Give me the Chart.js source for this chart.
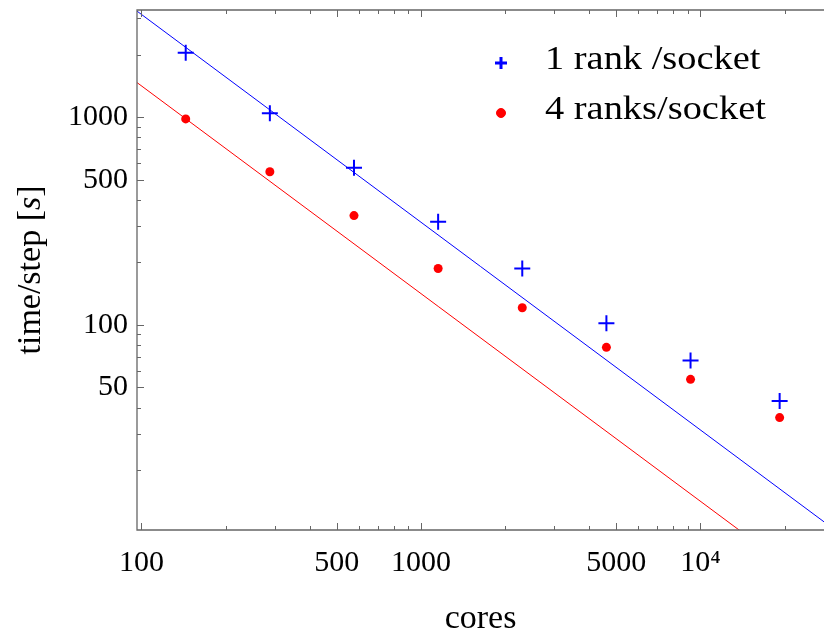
<!DOCTYPE html>
<html>
<head>
<meta charset="utf-8">
<script src="https://cdn.jsdelivr.net/npm/chart.js@4/dist/chart.umd.min.js"></script>
<style>
  html, body { margin: 0; background: #fff; overflow: hidden; }
  #wrap { width: 824px; height: 634px; }
</style>
</head>
<body>
<div id="wrap"><canvas id="scaling"></canvas></div>
<script>
// measured time per step vs. number of cores
const cores = [144, 288, 576, 1152, 2304, 4608, 9216, 19200];
const oneRank = [2040, 1045, 571, 314, 187, 102, 67.4, 43];
const fourRanks = [981, 546, 336, 187, 121, 78, 54.7, 35.8];

// ideal-scaling reference lines (end points)
const idealCores = [90, 30000];
const idealOneRank = [3470, 10.4];
const idealFourRanks = [1572, 4.72];

// tick labels
const xTickValues = [100, 500, 1000, 5000, 10000];
const xTickLabels = ['100', '500', '1000', '5000', '10\u2074'];
const yTickValues = [50, 100, 500, 1000];
const yTickLabels = ['50', '100', '500', '1000'];

const xRange = [96.4, 27670];
const yRange = [10.3, 3280];

const SERIF = '"Liberation Serif", "Times New Roman", serif';
const BLUE = '#0000ff';
const RED = '#ff0000';
const AXIS = '#666666';
const PAGE_W = 824;

function toPoints(xs, ys) {
  return xs.map((x, i) => ({ x: x, y: ys[i] }));
}

// minor/major tick positions on a log axis
function logTicks(min, max) {
  const out = [];
  for (let e = Math.floor(Math.log10(min)); e <= Math.ceil(Math.log10(max)); e++) {
    for (let m = 1; m < 10; m++) {
      const v = m * Math.pow(10, e);
      if (v >= min && v <= max) out.push(v);
    }
  }
  return out;
}

// frame, inward ticks, y title and legend
const framePlugin = {
  id: 'frame',
  afterDraw(chart) {
    const { ctx, chartArea: a, scales } = chart;
    const xs = scales.x, ys = scales.y;
    ctx.save();
    ctx.strokeStyle = AXIS;
    ctx.lineWidth = 1.3;
    ctx.beginPath();
    ctx.moveTo(a.right, a.top);
    ctx.lineTo(a.left, a.top);
    ctx.lineTo(a.left, a.bottom);
    ctx.lineTo(a.right, a.bottom);
    ctx.stroke();

    ctx.lineWidth = 1;
    ctx.beginPath();
    logTicks(xRange[0], xRange[1]).forEach(v => {
      const major = xTickValues.includes(v);
      const len = major ? 7 : 4;
      const px = Math.round(xs.getPixelForValue(v)) + 0.5;
      ctx.moveTo(px, a.bottom);
      ctx.lineTo(px, a.bottom - len);
      ctx.moveTo(px, a.top);
      ctx.lineTo(px, a.top + len);
    });
    logTicks(yRange[0], yRange[1]).forEach(v => {
      const major = yTickValues.includes(v);
      const len = major ? 7 : 4;
      const py = Math.round(ys.getPixelForValue(v)) + 0.5;
      ctx.moveTo(a.left, py);
      ctx.lineTo(a.left + len, py);
    });
    ctx.stroke();

    // y axis title: time/step [s] with italic s
    ctx.fillStyle = '#000';
    ctx.translate(40, 270);
    ctx.rotate(-Math.PI / 2);
    ctx.textBaseline = 'alphabetic';
    const parts = [
      ['time/step [', '34px ' + SERIF],
      ['s', 'italic 34px ' + SERIF],
      [']', '34px ' + SERIF]
    ];
    let total = 0;
    parts.forEach(p => { ctx.font = p[1]; total += ctx.measureText(p[0]).width; });
    let cx = -total / 2;
    parts.forEach(p => {
      ctx.font = p[1];
      ctx.fillText(p[0], cx, 0);
      cx += ctx.measureText(p[0]).width;
    });
    ctx.restore();

    // legend
    const items = [
      { label: '1 rank /socket', ds: 0, y: 63 },
      { label: '4 ranks/socket', ds: 1, y: 113 }
    ];
    items.forEach(it => {
      const d = chart.data.datasets[it.ds];
      ctx.save();
      ctx.strokeStyle = d.borderColor;
      ctx.fillStyle = d.backgroundColor;
      ctx.lineWidth = it.ds === 0 ? 3 : 0;
      Chart.helpers.drawPoint(ctx, {
        pointStyle: d.pointStyle,
        radius: it.ds === 0 ? 6 : d.pointRadius,
        rotation: 0,
        borderWidth: ctx.lineWidth
      }, 501, it.y);
      ctx.restore();
      ctx.save();
      ctx.fillStyle = '#000';
      ctx.font = '34px ' + SERIF;
      ctx.textBaseline = 'alphabetic';
      ctx.translate(545, it.y + 6);
      ctx.scale(1.13, 1);
      ctx.fillText(it.label, 0, 0);
      ctx.restore();
    });
  }
};

const chart = new Chart(document.getElementById('scaling'), {
  type: 'scatter',
  data: {
    datasets: [
      {
        label: '1 rank /socket',
        data: toPoints(cores, oneRank),
        pointStyle: 'cross',
        pointRadius: 8,
        borderWidth: 2,
        borderColor: BLUE,
        backgroundColor: BLUE,
        showLine: false
      },
      {
        label: '4 ranks/socket',
        data: toPoints(cores, fourRanks),
        pointStyle: 'circle',
        pointRadius: 4.5,
        borderWidth: 0,
        borderColor: RED,
        backgroundColor: RED,
        showLine: false
      },
      {
        label: 'ideal 1 rank',
        data: toPoints(idealCores, idealOneRank),
        showLine: true,
        pointRadius: 0,
        borderColor: BLUE,
        borderWidth: 1
      },
      {
        label: 'ideal 4 ranks',
        data: toPoints(idealCores, idealFourRanks),
        showLine: true,
        pointRadius: 0,
        borderColor: RED,
        borderWidth: 1
      }
    ]
  },
  options: {
    responsive: true,
    maintainAspectRatio: false,
    animation: false,
    layout: { padding: { top: 6, right: 0, left: 0, bottom: 0 } },
    plugins: {
      legend: { display: false },
      tooltip: { enabled: false }
    },
    scales: {
      x: {
        type: 'logarithmic',
        min: xRange[0],
        max: xRange[1],
        grid: { display: false, drawTicks: false },
        border: { display: false },
        afterBuildTicks: s => { s.ticks = xTickValues.map(v => ({ value: v })); },
        afterFit: s => {
          s.height = 104;
          s.paddingLeft = 0;
          s.paddingRight = 0;
        },
        ticks: {
          autoSkip: false,
          maxRotation: 0,
          padding: 15,
          color: '#000',
          font: { family: SERIF, size: 30 },
          callback: v => xTickLabels[xTickValues.indexOf(v)]
        },
        title: {
          display: true,
          text: 'cores',
          color: '#000',
          font: { family: SERIF, size: 34 },
          padding: { top: 0, bottom: -5 }
        }
      },
      y: {
        type: 'logarithmic',
        min: yRange[0],
        max: yRange[1],
        grid: { display: false, drawTicks: false },
        border: { display: false },
        afterBuildTicks: s => { s.ticks = yTickValues.map(v => ({ value: v })); },
        afterFit: s => {
          s.width = 137;
          s.paddingTop = 0;
          s.paddingBottom = 0;
        },
        ticks: {
          autoSkip: false,
          padding: 9,
          color: '#000',
          font: { family: SERIF, size: 30 },
          callback: v => yTickLabels[yTickValues.indexOf(v)]
        }
      }
    }
  },
  plugins: [framePlugin]
});

// the plot area runs to the page edge, as in the cropped original
const gap = PAGE_W - chart.chartArea.right;
if (gap > 0) {
  const wrap = document.getElementById('wrap');
  wrap.style.width = (PAGE_W + gap) + 'px';
  chart.resize();
  const gap2 = PAGE_W - chart.chartArea.right;
  if (gap2 !== 0) {
    wrap.style.width = (PAGE_W + gap + gap2) + 'px';
    chart.resize();
  }
}
</script>
</body>
</html>
